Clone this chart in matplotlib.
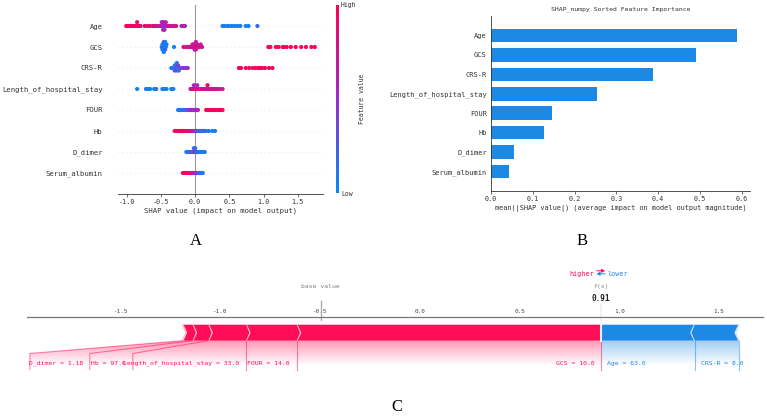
import numpy as np
import matplotlib
matplotlib.use("Agg")
import matplotlib.pyplot as plt
from matplotlib import lines
from matplotlib.path import Path
from matplotlib.patches import PathPatch, Polygon, FancyArrowPatch
from matplotlib.colors import LinearSegmentedColormap, Normalize
import matplotlib.colorbar as mcolorbar
from matplotlib.ticker import MultipleLocator

plt.rcParams['font.family'] = ['DejaVu Sans Mono', 'DejaVu Sans']
plt.rcParams['axes.unicode_minus'] = False

# ---------------- data ----------------
features = ["Age", "GCS", "CRS-R", "Length_of_hospital_stay", "FOUR", "Hb",
            "D_dimer", "Serum_albumin"]

age_shap = [-1.01, -0.99, -0.97, -0.95, -0.93, -0.90, -0.88, -0.86, -0.85, -0.84, -0.82, -0.80,
            -0.74, -0.70, -0.66, -0.62, -0.60, -0.57, -0.55, -0.52, -0.50, -0.49, -0.48, -0.48,
            -0.47, -0.46, -0.46, -0.45, -0.44, -0.43, -0.42, -0.40, -0.38, -0.35, -0.32, -0.30,
            -0.28, -0.20, -0.17, -0.15, 0.40, 0.43, 0.47, 0.50, 0.54, 0.58, 0.62, 0.66, 0.74,
            0.78, 0.91]
age_val = [0.98, 0.95, 0.97, 0.9, 0.95, 0.92, 0.97, 0.9, 0.85, 0.95, 0.9, 0.92,
           0.88, 0.85, 0.9, 0.82, 0.85, 0.8, 0.75, 0.7, 0.6, 0.55, 0.65, 0.5,
           0.6, 0.45, 0.7, 0.55, 0.6, 0.65, 0.5, 0.7, 0.75, 0.7, 0.8, 0.65,
           0.75, 0.6, 0.7, 0.55, 0.05, 0.08, 0.02, 0.05, 0.1, 0.04, 0.06, 0.08, 0.03,
           0.05, 0.2]

gcs_shap = [-0.49, -0.48, -0.48, -0.47, -0.47, -0.46, -0.46, -0.46, -0.45, -0.45, -0.44, -0.44,
            -0.43, -0.42, -0.31, -0.17, -0.13, -0.10, -0.08, -0.06, -0.05, -0.04, -0.03, -0.02,
            -0.01, 0.0, 0.0, 0.01, 0.01, 0.02, 0.03, 0.04, 0.06, 0.08, 0.10, 1.07, 1.10, 1.18,
            1.22, 1.28, 1.30, 1.34, 1.40, 1.47, 1.55, 1.62, 1.70, 1.75]
gcs_val = [0.05, 0.1, 0.02, 0.3, 0.05, 0.08, 0.35, 0.02, 0.1, 0.05, 0.25, 0.04,
           0.06, 0.1, 0.05, 0.85, 0.8, 0.75, 0.7, 0.8, 0.65, 0.85, 0.7, 0.75,
           0.6, 0.8, 0.7, 0.75, 0.65, 0.8, 0.7, 0.85, 0.75, 0.7, 0.8, 0.97, 0.95, 0.98,
           0.96, 0.98, 0.95, 0.97, 0.99, 0.96, 0.98, 0.97, 0.95, 0.99]

crs_shap = [-0.35, -0.33, -0.32, -0.31, -0.30, -0.30, -0.29, -0.28, -0.28, -0.27, -0.27, -0.26,
            -0.26, -0.25, -0.25, -0.24, -0.23, -0.22, -0.20, -0.17, -0.14, -0.11, 0.64, 0.67,
            0.74, 0.79, 0.84, 0.88, 0.92, 0.95, 0.98, 1.02, 1.08, 1.13]
crs_val = [0.1, 0.15, 0.05, 0.2, 0.1, 0.3, 0.08, 0.25, 0.12, 0.35, 0.05, 0.2,
           0.3, 0.1, 0.4, 0.15, 0.25, 0.3, 0.35, 0.45, 0.4, 0.5, 0.95, 0.97,
           0.93, 0.96, 0.98, 0.95, 0.97, 0.94, 0.96, 0.98, 0.95, 0.97]

los_shap = [-0.85, -0.72, -0.69, -0.66, -0.60, -0.57, -0.48, -0.45, -0.42, -0.35, -0.32,
            -0.07, -0.05, -0.04, -0.03, -0.02, -0.01, 0.0, 0.01, 0.02, 0.03, 0.05, 0.08,
            0.10, 0.12, 0.15, 0.17, 0.18, 0.20, 0.22, 0.24, 0.26, 0.28, 0.30, 0.33, 0.36, 0.40]
los_val = [0.05, 0.08, 0.03, 0.06, 0.04, 0.1, 0.05, 0.07, 0.04, 0.06, 0.08,
           0.55, 0.9, 0.5, 0.85, 0.6, 0.45, 0.95, 0.55, 0.8, 0.5, 0.9, 0.6,
           0.85, 0.55, 0.9, 0.65, 0.95, 0.6, 0.85, 0.7, 0.9, 0.6, 0.8, 0.7, 0.65, 0.75]

four_shap = [-0.25, -0.24, -0.23, -0.22, -0.21, -0.20, -0.18, -0.16, -0.14, -0.12, -0.10,
             -0.08, -0.06, -0.05, -0.04, -0.03, -0.02, -0.01, 0.0, 0.01, 0.02, 0.03, 0.04,
             0.16, 0.18, 0.20, 0.22, 0.25, 0.28, 0.30, 0.33, 0.36, 0.38, 0.40]
four_val = [0.1, 0.05, 0.15, 0.08, 0.12, 0.1, 0.05, 0.2, 0.15, 0.25, 0.4,
            0.5, 0.55, 0.45, 0.6, 0.5, 0.55, 0.65, 0.5, 0.6, 0.45, 0.55, 0.6,
            0.95, 0.97, 0.93, 0.96, 0.98, 0.95, 0.97, 0.94, 0.96, 0.98, 0.95]

hb_shap = [-0.30, -0.28, -0.25, -0.22, -0.20, -0.19, -0.18, -0.17, -0.15, -0.12, -0.10,
           -0.08, -0.06, -0.04, -0.02, 0.0, 0.02, 0.03, 0.04, 0.05, 0.06, 0.07, 0.08, 0.09,
           0.10, 0.12, 0.14, 0.16, 0.20, 0.25, 0.29]
hb_val = [0.98, 0.95, 0.97, 0.93, 0.96, 0.9, 0.98, 0.92, 0.95, 0.88, 0.9,
          0.85, 0.8, 0.7, 0.55, 0.5, 0.45, 0.2, 0.4, 0.15, 0.35, 0.1, 0.3, 0.15,
          0.2, 0.1, 0.25, 0.15, 0.1, 0.05, 0.08]

dd_shap = [-0.13, -0.11, -0.09, -0.08, -0.06, -0.05, -0.04, -0.03, -0.02, -0.02, -0.01, 0.0,
           0.0, 0.01, 0.02, 0.03, 0.04, 0.05, 0.06, 0.07, 0.08, 0.10, 0.12, 0.14]
dd_val = [0.1, 0.15, 0.05, 0.2, 0.1, 0.3, 0.55, 0.1, 0.6, 0.2, 0.05, 0.5,
          0.15, 0.65, 0.1, 0.25, 0.05, 0.15, 0.1, 0.2, 0.05, 0.1, 0.08, 0.05]

sa_shap = [-0.18, -0.16, -0.14, -0.12, -0.10, -0.09, -0.08, -0.06, -0.05, -0.04, -0.03,
           -0.02, -0.01, 0.0, 0.01, 0.02, 0.03, 0.04, 0.05, 0.06, 0.07, 0.08, 0.09, 0.10, 0.11]
sa_val = [0.98, 0.95, 0.97, 0.93, 0.9, 0.95, 0.85, 0.8, 0.7, 0.9, 0.6,
          0.65, 0.55, 0.7, 0.5, 0.4, 0.6, 0.3, 0.2, 0.5, 0.15, 0.1, 0.2, 0.05, 0.1]

shap_rows = [age_shap, gcs_shap, crs_shap, los_shap, four_shap, hb_shap, dd_shap, sa_shap]
value_rows = [age_val, gcs_val, crs_val, los_val, four_val, hb_val, dd_val, sa_val]

mean_abs_shap = [0.590, 0.491, 0.388, 0.254, 0.145, 0.128, 0.055, 0.043]

# force plot (single prediction)
base_value = -0.497
pos_names = ["GCS", "FOUR", "Length_of_hospital_stay", "Hb", "D_dimer"]
pos_feat_vals = ["10.0", "14.0", "33.0", "97.0", "1.18"]
pos_effects = [1.525, 0.254, 0.189, 0.079, 0.050]
neg_names = ["Age", "CRS-R"]
neg_feat_vals = ["63.0", "8.0"]
neg_effects = [-0.471, -0.222]

# ---------------- style ----------------
W, H = 767, 416
fig = plt.figure(figsize=(W / 100, H / 100), dpi=100)

def box(x0, y0, x1, y1):
    return [x0 / W, 1 - y1 / H, (x1 - x0) / W, (y1 - y0) / H]

RED = "#FF0D57"
BLUE = "#1E88E5"
cmap = LinearSegmentedColormap.from_list("red_blue", ["#008bfb", "#9b2ccb", "#ff0052"])
axis_color = "#333333"

# ---------------- Panel A: beeswarm ----------------
axA = fig.add_axes(box(118, 5, 323, 194))
n = len(features)
row_height = 0.4
for i, (sv, fv) in enumerate(zip(shap_rows, value_rows)):
    pos = n - 1 - i
    axA.axhline(y=pos, color="#cccccc", lw=0.5, dashes=(1, 5), zorder=-1)
    sv = np.asarray(sv, dtype=float)
    fv = np.asarray(fv, dtype=float)
    N = len(sv)
    nbins = 100
    quant = np.round(nbins * (sv - sv.min()) / (sv.max() - sv.min() + 1e-8))
    inds = np.argsort(quant, kind="stable")
    layer = 0
    last_bin = -1
    ys = np.zeros(N)
    for ind in inds:
        if quant[ind] != last_bin:
            layer = 0
        ys[ind] = np.ceil(layer / 2) * ((layer % 2) * 2 - 1)
        layer += 1
        last_bin = quant[ind]
    ys *= 0.9 * (row_height / np.max(ys + 1))
    axA.scatter(sv, pos + ys, c=fv, cmap=cmap, vmin=0, vmax=1, s=9, linewidths=0, zorder=3)
axA.axvline(x=0, color="#999999", lw=0.8, zorder=-1)
axA.set_ylim(-1, n)
axA.set_xlim(-1.13, 1.87)
axA.xaxis.set_major_locator(MultipleLocator(0.5))
axA.set_yticks(range(n))
axA.set_yticklabels(features[::-1], fontsize=5.2, color=axis_color)
axA.tick_params(axis='y', length=0, pad=11)
axA.tick_params(axis='x', labelsize=4.9, colors=axis_color, length=2, width=0.5, pad=1.5)
for s in ["top", "right", "left"]:
    axA.spines[s].set_visible(False)
axA.spines["bottom"].set_color(axis_color)
axA.spines["bottom"].set_linewidth(0.6)
axA.set_xlabel("SHAP value (impact on model output)", fontsize=5.2, color=axis_color, labelpad=2)

axCB = fig.add_axes(box(336, 5, 339, 193))
cb = mcolorbar.ColorbarBase(axCB, cmap=cmap, norm=Normalize(0, 1), ticks=[0, 1])
cb.set_ticklabels(["Low", "High"])
cb.outline.set_visible(False)
axCB.tick_params(length=0, labelsize=4.7, colors=axis_color, pad=1.5)
cb.set_label("Feature value", fontsize=4.7, color=axis_color, labelpad=2)

# ---------------- Panel B: mean |SHAP| bar ----------------
axB = fig.add_axes(box(491, 16, 750, 191))
ypos = np.arange(n)[::-1]
axB.barh(ypos, mean_abs_shap, 0.7, align="center", color=BLUE)
axB.set_ylim(-1, n)
axB.set_xlim(0, 0.62)
axB.xaxis.set_major_locator(MultipleLocator(0.1))
axB.set_yticks(ypos)
axB.set_yticklabels(features, fontsize=5.0, color=axis_color)
axB.tick_params(axis='y', length=0, pad=3)
axB.tick_params(axis='x', labelsize=4.9, colors=axis_color, length=2, width=0.5, pad=1.5)
for s in ["top", "right"]:
    axB.spines[s].set_visible(False)
for s in ["left", "bottom"]:
    axB.spines[s].set_color(axis_color)
    axB.spines[s].set_linewidth(0.6)
axB.set_xlabel("mean(|SHAP value|) (average impact on model output magnitude)",
               fontsize=4.95, color=axis_color, labelpad=2)
axB.set_title("SHAP_numpy Sorted Feature Importance", fontsize=4.65, color=axis_color, pad=4)

# ---------------- Panel C: force plot ----------------
axC = fig.add_axes(box(27, 316.7, 763, 404.7))
xlim_c = (-1.97, 1.72)
ylim_c = (-0.4, 0.15)
axC.set_xlim(*xlim_c)
axC.set_ylim(*ylim_c)
axC.xaxis.set_ticks_position('top')
axC.xaxis.set_major_locator(MultipleLocator(0.5))
axC.tick_params(top=True, bottom=False, left=False, right=False, labelleft=False,
                labeltop=True, labelbottom=False, labelsize=4.3, colors="#444444",
                length=0, pad=2)
axC.set_yticks([])
for k, sp in axC.spines.items():
    sp.set_visible(k == 'top')
axC.spines['top'].set_color("#777777")
axC.spines['top'].set_linewidth(0.9)

out_value = base_value + sum(pos_effects) + sum(neg_effects)
width_bar = 0.1
width_sep = (xlim_c[1] - xlim_c[0]) / 200

pos_bounds = out_value - np.cumsum(pos_effects)
neg_bounds = out_value + np.cumsum(np.abs(neg_effects))

def draw_bars(bounds, kind):
    pre = out_value
    for idx, b in enumerate(bounds):
        if kind == 'positive':
            left, right = b, pre
            indent = abs(width_sep)
            sep_pos = left
            cols = [RED, '#FFC3D5']
        else:
            left, right = pre, b
            indent = -abs(width_sep)
            sep_pos = right
            cols = [BLUE, '#D1E6FA']
        pre = b
        if idx == 0:
            if kind == 'positive':
                pts = [[left, 0], [right, 0], [right, width_bar], [left, width_bar],
                       [left + indent, width_bar / 2]]
            else:
                pts = [[right, 0], [left, 0], [left, width_bar], [right, width_bar],
                       [right + indent, width_bar / 2]]
        else:
            pts = [[left, 0], [right, 0], [right + indent * 0.9, width_bar / 2],
                   [right, width_bar], [left, width_bar], [left + indent * 0.9, width_bar / 2]]
        axC.add_patch(Polygon(pts, closed=True, fill=True, facecolor=cols[0], linewidth=0))
        sep = [[sep_pos, 0], [sep_pos + indent, width_bar / 2], [sep_pos, width_bar]]
        axC.add_patch(Polygon(sep, closed=False, fill=False, edgecolor=cols[1], lw=1.3))

draw_bars(pos_bounds, 'positive')
draw_bars(neg_bounds, 'negative')

fig.canvas.draw()
renderer = fig.canvas.get_renderer()
offset_text = 0.033
measure_scale = 0.86  # extents measured at a different dpi than the saved image

def text_width(t):
    bb = t.get_window_extent(renderer)
    inv = axC.transData.inverted()
    x0 = inv.transform((bb.x0, 0))[0]
    x1 = inv.transform((bb.x1, 0))[0]
    return (x1 - x0) * measure_scale

def add_line(xs, ys, color):
    ln = lines.Line2D(xs, ys, lw=0.8, alpha=0.5, color=color)
    ln.set_clip_on(False)
    axC.add_line(ln)

def draw_labels(names, fvals, bounds, kind):
    if kind == 'positive':
        color, ha, sign = RED, 'right', 1
        shade = np.array([(255, 13, 87), (255, 255, 255)]) / 255.
        add_line([out_value, out_value], [0, -0.18], color)
    else:
        color, ha, sign = BLUE, 'left', -1
        shade = np.array([(30, 136, 229), (255, 255, 255)]) / 255.
    start = out_value
    pre = out_value
    box_end = out_value
    for name, fv, val in zip(names, fvals, bounds):
        t = axC.text(start - sign * offset_text, -0.15, f"{name} = {fv}", fontsize=4.6,
                     color=color, ha=ha, va='baseline')
        w = text_width(t)
        edge = start - sign * offset_text - sign * w
        if sign * edge > sign * val:
            add_line([val, val], [0, -0.18], color)
            start = val
            box_end = val
        else:
            box_end = edge - sign * offset_text
            add_line([val, box_end, box_end], [0, -0.08, -0.18], color)
            start = box_end
        pre = val
    path = Path([[out_value, 0], [pre, 0], [box_end, -0.08], [box_end, -0.2],
                 [out_value, -0.2], [out_value, 0]])
    patch = PathPatch(path, facecolor='none', edgecolor='none')
    axC.add_patch(patch)
    cm = LinearSegmentedColormap.from_list('cm', shade)
    _, Z2 = np.meshgrid(np.linspace(0, 10), np.linspace(-10, 10))
    im = axC.imshow(Z2, interpolation='quadric', cmap=cm, vmax=0.01, alpha=0.42,
                    origin='lower', extent=[out_value, box_end, 0, -0.31],
                    aspect='auto', zorder=0)
    im.set_clip_path(patch)

draw_labels(neg_names, neg_feat_vals, neg_bounds, 'negative')
draw_labels(pos_names, pos_feat_vals, pos_bounds, 'positive')
axC.set_xlim(*xlim_c)
axC.set_ylim(*ylim_c)
axC.set_aspect('auto')

# higher / lower legend
axC.text(out_value - offset_text, 0.405, 'higher', fontsize=4.9, color=RED, ha='right', clip_on=False)
axC.text(out_value + offset_text, 0.405, 'lower', fontsize=4.9, color=BLUE, ha='left', clip_on=False)
arr_w = 0.021
for (x0, x1, yy, col) in [(out_value - arr_w, out_value + arr_w, 0.437, RED),
                          (out_value + arr_w, out_value - arr_w, 0.418, BLUE)]:
    a = FancyArrowPatch((x0, yy), (x1, yy), arrowstyle='-|>,head_length=1.2,head_width=0.7',
                        color=col, lw=0.7, mutation_scale=1.5, shrinkA=0, shrinkB=0,
                        clip_on=False)
    axC.add_patch(a)

# base value element
ln = lines.Line2D([base_value, base_value], [0.13, 0.25], lw=1.0, color='#aaaaaa')
ln.set_clip_on(False)
axC.add_line(ln)
t = axC.text(base_value, 0.33, 'base value', fontsize=4.6, alpha=0.5, ha='center')
t.set_bbox(dict(facecolor='white', edgecolor='white', pad=0.5))

# output element
ln = lines.Line2D([out_value, out_value], [0, 0.24], lw=1.5, color='#F2F2F2')
ln.set_clip_on(False)
axC.add_line(ln)
t = axC.text(out_value, 0.25, '{0:.2f}'.format(out_value), fontsize=5.6,
             fontweight='bold', ha='center', color='#222222')
t.set_bbox(dict(facecolor='white', edgecolor='white', pad=0.5))
t = axC.text(out_value, 0.33, 'f(x)', fontsize=4.6, alpha=0.5, ha='center')
t.set_bbox(dict(facecolor='white', edgecolor='white', pad=0.5))

# ---------------- panel letters ----------------
for letter, (px, py) in zip(["A", "B", "C"], [(196, 241), (582, 241), (397, 407)]):
    fig.text(px / W, 1 - py / H, letter, fontsize=12, family='Liberation Serif',
             ha='center', va='center', color='black')

fig.savefig("out.png", dpi=100)
